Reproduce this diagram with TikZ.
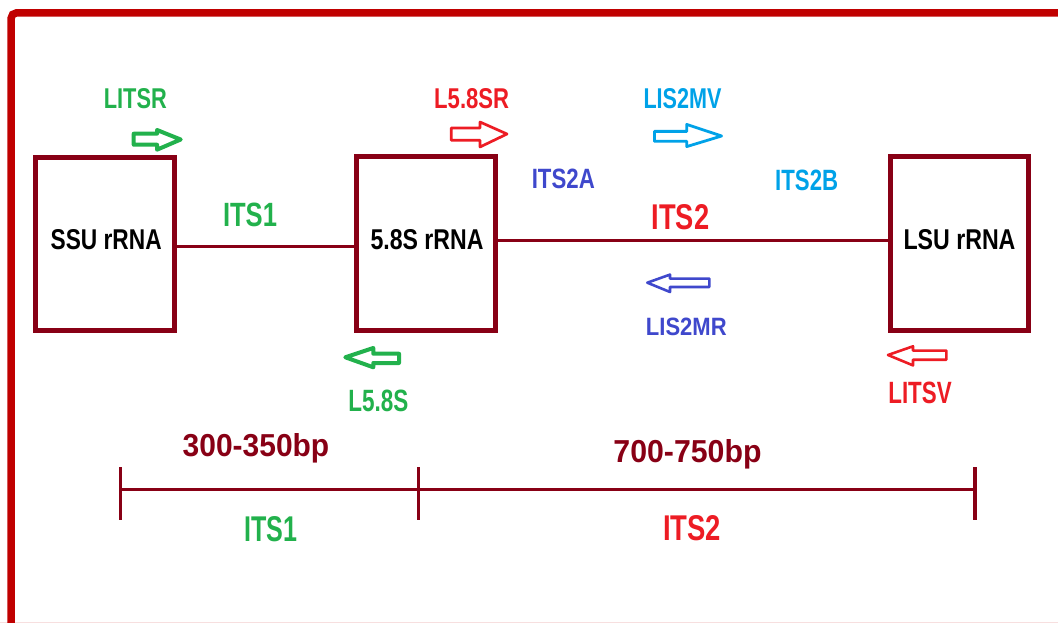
\documentclass[tikz,border=0pt]{standalone}
\usepackage{fontspec}
\setmainfont{Liberation Sans}
\usepackage{graphicx}
\definecolor{bordred}{HTML}{C00000}
\definecolor{dkred}{HTML}{880015}
\definecolor{pgreen}{HTML}{22B14C}
\definecolor{pred}{HTML}{ED1C24}
\definecolor{pblue}{HTML}{3F48CC}
\definecolor{pcyan}{HTML}{00A2E8}
\newcommand\rz[3]{\resizebox{#1pt}{#2pt}{#3}}
\tikzset{
  gene/.style={draw=dkred, line width=5pt, rectangle, inner sep=0pt, outer sep=0pt},
  lbl/.style={inner sep=0pt, outer sep=0pt, font=\bfseries},
  link/.style={draw=dkred, line width=3.2pt},
  scaleline/.style={draw=dkred, line width=3.6pt},
  blockarrow/.style={line join=round, draw=#1, fill=white},
}
\begin{document}
\begin{tikzpicture}[x=1pt, y=-1pt]
\useasboundingbox (0,0) rectangle (1058,623);
\clip (0,0) rectangle (1058,623);
% frame
\draw[bordred, line width=7.5pt, rounded corners=5pt] (11.2,640) -- (11.2,13) -- (1070,13) -- (1070,626.5) -- (-10,626.5);

% gene boxes
\node[gene, minimum width=138.5pt, minimum height=172.7pt] (ssu) at (104.75,244.3) {};
\node[gene, minimum width=138.3pt, minimum height=174pt] (s58) at (425.85,243.1) {};
\node[gene, minimum width=138.1pt, minimum height=174pt] (lsu) at (959.2,243.2) {};

\node[lbl] (ssut) at (106.2,240) {\rz{111}{20}{SSU rRNA}};
\node[lbl] (s58t) at (427,240) {\rz{113}{20}{5.8S rRNA}};
\node[lbl] (lsut) at (959.5,240) {\rz{112}{20}{LSU rRNA}};

% connectors
\draw[link] ([yshift=-2pt]ssu.east) -- ([yshift=-2pt]ssu.east -| s58.west);
\draw[link] ([yshift=2.4pt]s58.east) -- ([yshift=2.4pt]s58.east -| lsu.west);

% region labels
\node[lbl, text=pgreen] (its1a) at (250,215) {\rz{54}{23.5}{ITS1}};
\node[lbl, text=pred] (its2a) at (680.5,217.5) {\rz{57.6}{25}{ITS2}};
\node[lbl, text=pblue] (its2A) at (563.3,178.7) {\rz{63}{19.5}{ITS2A}};
\node[lbl, text=pcyan] (its2B) at (806.7,180.3) {\rz{63}{20.5}{ITS2B}};

% primer labels
\node[lbl, text=pgreen] (litsr) at (135.3,98.2) {\rz{63}{20}{LITSR}};
\node[lbl, text=pred] (l58sr) at (471.7,98.3) {\rz{75}{20}{L5.8SR}};
\node[lbl, text=pcyan] (lis2mv) at (682.5,98.3) {\rz{78}{20}{LIS2MV}};
\node[lbl, text=pblue] (lis2mr) at (686.3,326.5) {\rz{80.7}{17.5}{LIS2MR}};
\node[lbl, text=pgreen] (l58s) at (378.3,400.8) {\rz{60}{21.5}{L5.8S}};
\node[lbl, text=pred] (litsv) at (920,392.5) {\rz{63.3}{21.5}{LITSV}};

% primer arrows
\draw[blockarrow=pgreen, line width=4pt]
  (133.7,133.7) -- (157,133.7) -- (157,130) -- (180.7,139.5) -- (157,149.7) -- (157,144.7) -- (133.7,144.7) -- cycle;
\draw[blockarrow=pred, line width=2.7pt]
  (451.3,128) -- (480,128) -- (480,122) -- (507,134) -- (480,147) -- (480,140.3) -- (451.3,140.3) -- cycle;
\draw[blockarrow=pcyan, line width=2.8pt]
  (654.4,131.4) -- (686.7,131.4) -- (686.7,124.4) -- (721.6,136) -- (686.7,146.6) -- (686.7,141.3) -- (654.4,141.3) -- cycle;
\draw[blockarrow=pblue, line width=2.6pt]
  (709.4,278.6) -- (670,278.6) -- (670,274.6) -- (647.3,282.7) -- (670,292) -- (670,287) -- (709.4,287) -- cycle;
\draw[blockarrow=pgreen, line width=4pt]
  (399,353.7) -- (373.3,353.7) -- (373.3,348) -- (345.3,357.3) -- (373.3,367.3) -- (373.3,363) -- (399,363) -- cycle;
\draw[blockarrow=pred, line width=2.6pt]
  (946.4,350.6) -- (913,350.6) -- (913,346.3) -- (888,355) -- (913,365.4) -- (913,359.7) -- (946.4,359.7) -- cycle;

% length scale
\coordinate (sa) at (120.7,489.5);
\coordinate (sb) at (418.4,489.5);
\coordinate (sc) at (975,489.5);
\draw[scaleline] (sa) -- (sc);
\draw[dkred, line width=3.3pt] ([yshift=22.5pt]sa) -- ([yshift=-30.5pt]sa);
\draw[dkred, line width=3.3pt] ([yshift=22.5pt]sb) -- ([yshift=-30.5pt]sb);
\draw[dkred, line width=3.3pt] ([yshift=22.5pt]sc) -- ([yshift=-30.5pt]sc);

\node[lbl, text=dkred, anchor=base] (bp1) at (256,456) {\resizebox{146.6pt}{23pt}{300-350bp}};
\node[lbl, text=dkred, anchor=base] (bp2) at (687.5,462) {\resizebox{148pt}{23pt}{700-750bp}};
\node[lbl, text=pgreen] (its1b) at (270.7,529.2) {\rz{53}{25}{ITS1}};
\node[lbl, text=pred] (its2b) at (692,528) {\rz{58}{25}{ITS2}};
\end{tikzpicture}
\end{document}
